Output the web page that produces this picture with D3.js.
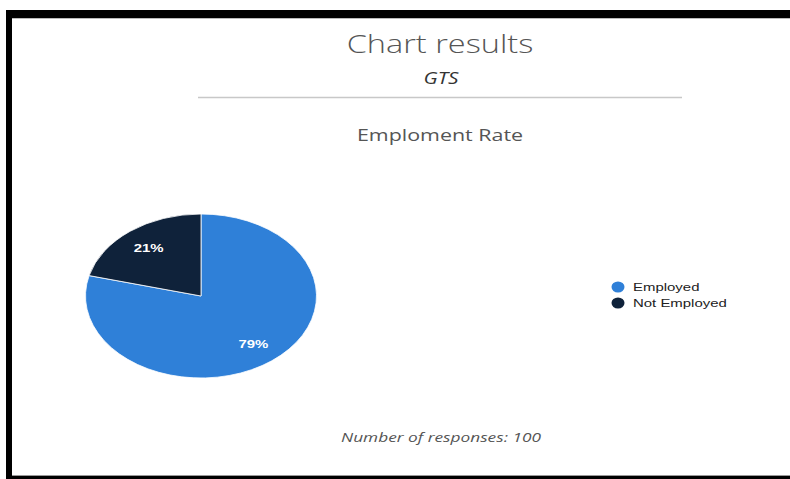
<!DOCTYPE html>
<html>
<head>
<meta charset="utf-8">
<script src="https://cdn.jsdelivr.net/npm/d3@7"></script>
<style>
  body { margin: 0; background: #fff; }
  svg { display: block; }
</style>
</head>
<body>
<script>
  // chart values
  var categories = ['Employed', 'Not Employed'];
  var values = [79, 21];
  var colors = ['#2f80d8', '#0f223a'];
  var title = 'Chart results';
  var subtitle = 'GTS';
  var chartTitle = 'Emploment Rate';
  var footer = 'Number of responses: 100';

  var svgWidth = 790;
  var svgHeight = 479;
  // the picture is stretched sideways, text included
  var stretch = 1.3;

  var svg = d3.select('body').append('svg')
    .attr('width', svgWidth).attr('height', svgHeight);

  // black frame round the panel
  svg.append('rect').attr('x', 0).attr('y', 0).attr('width', svgWidth).attr('height', svgHeight).attr('fill', '#fff');
  svg.append('path')
    .attr('d', 'M6,479 V10 H790 V18 H12 V476 H790 V479 Z')
    .attr('fill', '#000');
  svg.append('line').attr('x1', 12).attr('x2', 790).attr('y1', 18.5).attr('y2', 18.5).attr('stroke', '#bbb');
  svg.append('line').attr('x1', 12).attr('x2', 790).attr('y1', 475.5).attr('y2', 475.5).attr('stroke', '#999');

  // text placed at x,y and widened
  function addText(parent, x, y, str, anchor) {
    return parent.append('g')
      .attr('transform', 'translate(' + x + ',' + y + ') scale(' + stretch + ',1)')
      .append('text')
      .attr('text-anchor', anchor || 'middle')
      .text(str);
  }

  // headings
  addText(svg, 440, 53, title)
    .style('font-family', 'Open Sans').style('font-weight', 300)
    .style('font-size', '25px').attr('fill', '#555');

  addText(svg, 441, 84, subtitle)
    .style('font-family', 'Open Sans').style('font-style', 'italic')
    .style('font-size', '16px').attr('fill', '#333');

  svg.append('line').attr('x1', 198).attr('x2', 682).attr('y1', 97.5).attr('y2', 97.5)
    .attr('stroke', '#c8c8c8').attr('stroke-width', 1.5);

  addText(svg, 440, 141, chartTitle)
    .style('font-family', 'Open Sans')
    .style('font-size', '16.5px').attr('fill', '#555');

  addText(svg, 441, 442, footer)
    .style('font-family', 'Open Sans').style('font-style', 'italic')
    .style('font-size', '13.3px').attr('fill', '#555');

  // pie, stretched into an ellipse like the picture
  var cx = 201, cy = 296, rx = 115.5, ry = 82;
  var r = ry;
  var total = d3.sum(values);

  var pie = d3.pie().sort(null)(values);
  var arc = d3.arc().innerRadius(0).outerRadius(r);
  var labelArc = d3.arc().innerRadius(r * 0.74).outerRadius(r * 0.74);

  var g = svg.append('g')
    .attr('transform', 'translate(' + cx + ',' + cy + ') scale(' + (rx / r) + ',1)');

  g.selectAll('path.slice')
    .data(pie)
    .enter()
    .append('path')
    .attr('class', 'slice')
    .attr('d', arc)
    .attr('fill', function (d, i) { return colors[i]; })
    .attr('stroke', '#fff')
    .attr('stroke-width', 0.8)
    .attr('vector-effect', 'non-scaling-stroke');

  pie.forEach(function (d) {
    var c = labelArc.centroid(d);
    addText(svg, cx + c[0] * rx / r, cy + c[1], Math.round(d.data / total * 100) + '%')
      .attr('dy', '0.35em')
      .style('font-family', 'Liberation Sans, Arial').style('font-weight', 'bold')
      .style('font-size', '11.5px').attr('fill', '#fff');
  });

  // legend
  var legend = svg.selectAll('g.legend')
    .data(categories)
    .enter()
    .append('g')
    .attr('class', 'legend')
    .attr('transform', function (d, i) { return 'translate(618,' + (287 + i * 16) + ')'; });

  legend.append('ellipse').attr('rx', 6.5).attr('ry', 5.5)
    .attr('fill', function (d, i) { return colors[i]; });

  legend.each(function (d) {
    addText(d3.select(this), 15, 0, d, 'start')
      .attr('dy', '0.35em')
      .style('font-family', 'Liberation Sans, Arial')
      .style('font-size', '11.5px').attr('fill', '#222');
  });
</script>
</body>
</html>
